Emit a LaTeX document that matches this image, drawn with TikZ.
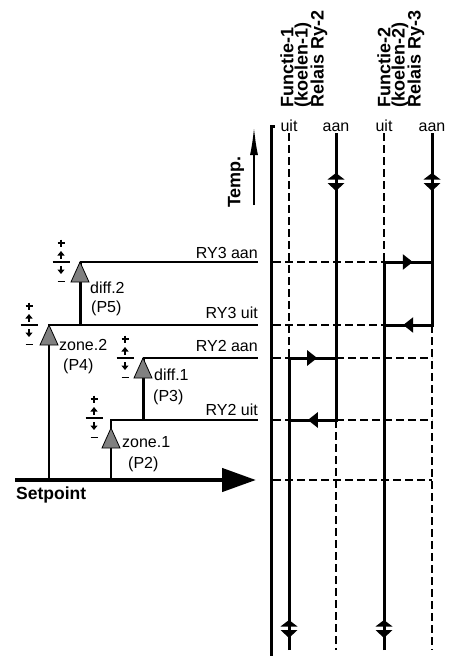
\documentclass[tikz,border=0pt]{standalone}
\usepackage{fontspec}
\setmainfont{Liberation Sans}
\usetikzlibrary{arrows.meta}
\usetikzlibrary{decorations.markings}
\usetikzlibrary{calc}
\tikzset{axisline/.style={line width=3pt},
         funcline/.style={line width=3pt},
         dashline/.style={line width=1.8pt,dash pattern=on 8pt off 4pt},
         lvl/.style={line width=1.9pt},
         lvlthick/.style={line width=3pt},
  lbl/.style={font=\fontsize{16}{18}\selectfont,inner sep=0pt},
  hdr/.style={font=\bfseries\fontsize{18}{20}\selectfont,inner sep=0pt,rotate=90,anchor=west},
  switchmark/.style={line width=3pt,
    postaction=decorate,
    decoration={markings,
      mark=at position 0.6 with {\arrow{Triangle[length=10pt,width=15pt]}}}}
         }
\begin{document}
\begin{tikzpicture}[x=1pt,y=-1pt,
  tri/.pic={
    \filldraw[fill=gray,line width=0.8pt,line join=miter] (0,0) -- (9,20) -- (-9,20) -- cycle;
  },
  updown/.pic={
    \fill (0,-8) -- (8.5,-1.5) -- (-8.5,-1.5) -- cycle;
    \fill (0,10) -- (8.5,2) -- (-8.5,2) -- cycle;
  },
  adj/.pic={
    \draw[line width=1.3pt] (-8.5,0) -- (8.5,0);
    \draw[line width=1.2pt] (-3.5,-19) -- (3.5,-19) (0,-22.5) -- (0,-15.5);
    \draw[line width=1.2pt] (-3.5,19.5) -- (3.5,19.5);
    \draw[line width=1.2pt,-{Triangle[length=4.5pt,width=7pt]}] (0,-3) -- (0,-11);
    \draw[line width=1.2pt,-{Triangle[length=4.5pt,width=7pt]}] (0,4) -- (0,12);
  }
        ]
        \useasboundingbox (0,0) rectangle (456,656);
        % levels
        \coordinate (L3on) at (0,262);
        \coordinate (L3off) at (0,325);
        \coordinate (L2on) at (0,358);
        \coordinate (L2off) at (0,420);
        \coordinate (Lsp) at (0,480);
        \coordinate (top) at (0,133);
        \coordinate (bot) at (0,650);
        % columns
        \coordinate (Z2) at (49,0);
        \coordinate (D2) at (80,0);
        \coordinate (Z1) at (111,0);
        \coordinate (D1) at (143,0);
        \coordinate (E) at (258,0);
        \coordinate (AX) at (271,0);
        \coordinate (U1) at (289,0);
        \coordinate (A1) at (336,0);
        \coordinate (U2) at (384,0);
        \coordinate (A2) at (432,0);

        % setpoint side
        \begin{scope}
        \draw[lvl] (Z2 |- Lsp) -- (Z2 |- L3off) -- (E |- L3off);
        \draw[lvlthick] (D2 |- L3off) -- (D2 |- L3on);
        \draw[lvl] (D2 |- L3on) -- (E |- L3on);
        \draw[lvl] (Z1 |- Lsp) -- (Z1 |- L2off) -- (E |- L2off);
        \draw[lvlthick] (D1 |- L2off) -- (D1 |- L2on);
        \draw[lvl] (D1 |- L2on) -- (E |- L2on);
        \pic at (D2 |- L3on) {tri};
        \pic at (Z2 |- L3off) {tri};
        \pic at (D1 |- L2on) {tri};
        \pic at ($(Z1 |- L2off)+(0,8)$) {tri};
        \pic at ($(D2 |- L3on)+(-19,0)$) {adj};
        \pic at ($(Z2 |- L3off)+(-20,0)$) {adj};
        \pic at ($(D1 |- L2on)+(-18,0)$) {adj};
        \pic at ($(Z1 |- L2off)+(-17,-2)$) {adj};
        \coordinate (S0) at (15,480);
        \coordinate (S1) at (256,480);
        \draw[line width=4.5pt,-{Triangle[length=34pt,width=23pt]}] (S0) -- (S1);
        \node[lbl,anchor=west] (d2) at (90,288) {diff.2};
        \node[lbl,anchor=west] (p5) at (91,308) {(P5)};
        \node[lbl,anchor=west] (z2) at (59,345) {zone.2};
        \node[lbl,anchor=west] (p4) at (63,366) {(P4)};
        \node[lbl,anchor=west] (d1) at (154,375) {diff.1};
        \node[lbl,anchor=west] (p3) at (153,397) {(P3)};
        \node[lbl,anchor=west] (z1) at (122,442) {zone.1};
        \node[lbl,anchor=west] (p2) at (128,464) {(P2)};
        \node[lbl,anchor=base east] (r3a) at ($(E |- L3on)+(0,-4)$) {RY3 aan};
        \node[lbl,anchor=base east] (r3u) at ($(E |- L3off)+(0,-7)$) {RY3 uit};
        \node[lbl,anchor=base east] (r2a) at ($(E |- L2on)+(0,-7)$) {RY2 aan};
        \node[lbl,anchor=base east] (r2u) at ($(E |- L2off)+(0,-5)$) {RY2 uit};
        \node[lbl,font=\bfseries\fontsize{17.5}{19}\selectfont,anchor=west] (sp) at (16,495) {Setpoint};
        \end{scope}

        % relay side
        \begin{scope}
        \draw[axisline] (AX |- 0,656) -- (AX |- 0,126.5) -- ($(AX |- 0,126.5)+(4,0)$);
        \coordinate (T0) at (254,205);
        \coordinate (T1) at (254,127);
        \draw[line width=1.8pt,-{Latex[length=28pt,width=8pt]}] (T0) -- (T1);
        \node[hdr,anchor=center] (temp) at (236,182) {Temp.};
        % dashed grid
        \draw[dashline] (U1 |- top) -- (U1 |- L2on);
        \draw[dashline] (A1 |- L2off) -- (A1 |- bot);
        \draw[dashline] (U2 |- top) -- (U2 |- L3on);
        \draw[dashline] (A2 |- L3off) -- (A2 |- bot);
        \draw[dashline] ($(AX |- L3on)+(2,0)$) -- (U2 |- L3on);
        \draw[dashline] ($(AX |- L3off)+(2,0)$) -- (U2 |- L3off);
        \draw[dashline] ($(AX |- L2on)+(2,0)$) -- (U1 |- L2on);
        \draw[dashline] (A1 |- L2on) -- (A2 |- L2on);
        \draw[dashline] ($(AX |- L2off)+(2,0)$) -- (U1 |- L2off);
        \draw[dashline] (A1 |- L2off) -- (A2 |- L2off);
        \draw[dashline] ($(AX |- Lsp)+(2,0)$) -- (A2 |- Lsp);
        % relay paths
        \draw[funcline] (A1 |- top) -- (A1 |- L2off) -- (U1 |- L2off);
        \draw[switchmark] (A1 |- L2off) -- (U1 |- L2off);
        \draw[funcline] (U1 |- bot) -- (U1 |- L2on) -- (A1 |- L2on);
        \draw[switchmark] (U1 |- L2on) -- (A1 |- L2on);
        \draw[funcline] (U2 |- bot) -- (U2 |- L3on) -- (A2 |- L3on);
        \draw[switchmark] (U2 |- L3on) -- (A2 |- L3on);
        \draw[funcline] (A2 |- top) -- (A2 |- L3off) -- (U2 |- L3off);
        \draw[switchmark] (A2 |- L3off) -- (U2 |- L3off);
        \pic at (A1 |- 0,181) {updown};
        \pic at (A2 |- 0,181) {updown};
        \pic at (U1 |- 0,628) {updown};
        \pic at (U2 |- 0,628) {updown};
        % headers
        \node[hdr] (h1a) at (287,108) {Functie-1};
        \node[hdr] (h1b) at (303,108) {(koelen-1)};
        \node[hdr] (h1c) at (319,108) {Relais Ry-2};
        \node[hdr] (h2a) at (384,108) {Functie-2};
        \node[hdr] (h2b) at (400,108) {(koelen-2)};
        \node[hdr] (h2c) at (416,108) {Relais Ry-3};
        \node[lbl,anchor=base] (s1u) at (U1 |- 0,131) {uit};
        \node[lbl,anchor=base] (s1a) at (A1 |- 0,131) {aan};
        \node[lbl,anchor=base] (s2u) at (U2 |- 0,131) {uit};
        \node[lbl,anchor=base] (s2a) at (A2 |- 0,131) {aan};
        \end{scope}
\end{tikzpicture}
\end{document}
